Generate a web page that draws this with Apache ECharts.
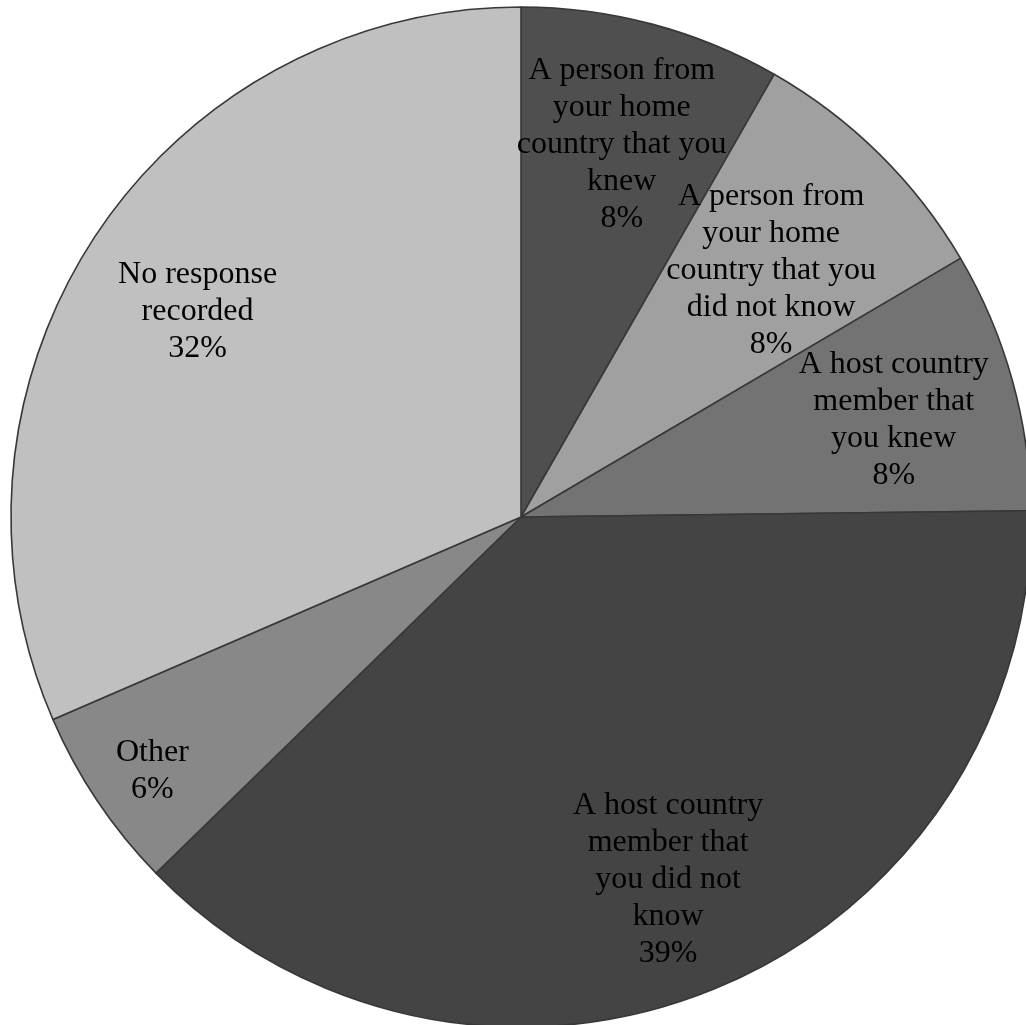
<!DOCTYPE html>
<html>
<head>
<meta charset="utf-8">
<script src="https://cdn.jsdelivr.net/npm/echarts@6/dist/echarts.min.js"></script>
<style>
  html, body { margin: 0; padding: 0; background: #ffffff; }
  #chart { width: 1026px; height: 1025px; }
</style>
</head>
<body>
<div id="chart"></div>
<script>
// Who respondents turned to: share of responses (%)
const categories = [
  'A person from\nyour home\ncountry that you\nknew',
  'A person from\nyour home\ncountry that you\ndid not know',
  'A host country\nmember that\nyou knew',
  'A host country\nmember that\nyou did not\nknow',
  'Other',
  'No response\nrecorded'
];
const shares = [8.4, 8.4, 8.4, 38.5, 5.9, 32.0];
const sliceColors = ['#4f4f4f', '#a0a0a0', '#737373', '#444444', '#888888', '#c0c0c0'];

// how far out (as a fraction of the radius) each label sits along its slice's mid-angle
const labelDepth = [0.76, 0.69, 0.75, 0.745, 0.86, 0.75];

const cx = 521, cy = 517, R = 510;

const chart = echarts.init(document.getElementById('chart'), null, { renderer: 'canvas' });

chart.setOption({
  backgroundColor: '#ffffff',
  animation: false,
  series: [{
    type: 'pie',
    center: [cx, cy],
    radius: [0, R],
    startAngle: 90,
    clockwise: true,
    avoidLabelOverlap: false,
    silent: true,
    data: categories.map((name, i) => ({
      name: name,
      value: shares[i],
      itemStyle: { color: sliceColors[i] }
    })),
    itemStyle: {
      borderColor: '#383838',
      borderWidth: 1.6
    },
    label: {
      show: true,
      position: 'inside',
      formatter: p => p.name + '\n' + Math.round(p.value) + '%',
      fontFamily: '"Liberation Serif", "Times New Roman", serif',
      fontSize: 32,
      lineHeight: 37,
      color: '#000000',
      align: 'center'
    },
    labelLine: { show: false },
    // 'inside' places labels at half the radius; push each one outward along its mid-angle
    labelLayout: function (params) {
      const r = params.labelRect;
      const lx = r.x + r.width / 2;
      const ly = r.y + r.height / 2;
      const k = labelDepth[params.dataIndex] / 0.5 - 1;
      return { dx: (lx - cx) * k, dy: (ly - cy) * k + 7 };
    }
  }]
});
</script>
</body>
</html>
